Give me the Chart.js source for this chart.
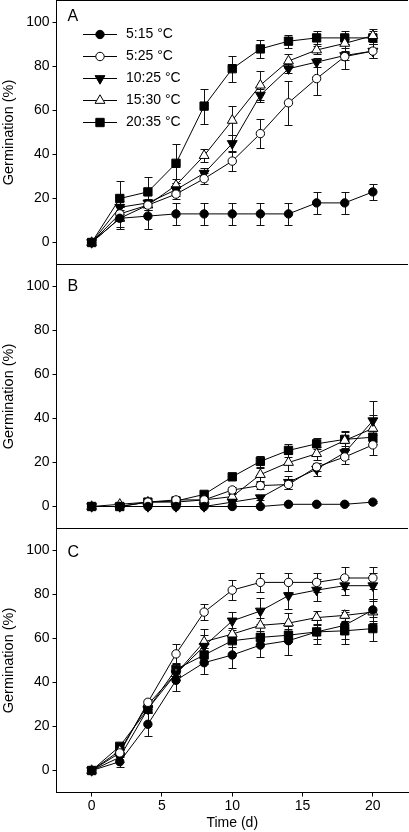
<!DOCTYPE html>
<html>
<head>
<meta charset="utf-8">
<script src="https://cdn.jsdelivr.net/npm/chart.js@4.4.1/dist/chart.umd.min.js"></script>
<style>
html,body{margin:0;padding:0;background:#fff;}
canvas{display:block;}
</style>
</head>
<body>
<canvas id="c" width="409" height="832"></canvas>
<script>
// ---------- data ----------
const days = [0, 2, 4, 6, 8, 10, 12, 14, 16, 18, 20];
const seriesNames = ['5:15 °C', '5:25 °C', '10:25 °C', '15:30 °C', '20:35 °C'];
const panelLetters = ['A', 'B', 'C'];
const yTickValues = [0, 20, 40, 60, 80, 100];
const xTickValues = [0, 5, 10, 15, 20];

// Panel A
const a515  = [0, 11, 12, 13, 13, 13, 13, 13, 18, 18, 23];
const a515e = [0, 5, 6, 5, 5, 5, 5, 5, 5, 5, 3.5];
const a525  = [0, 13, 17, 22, 29, 37, 49.5, 63.5, 74.5, 84.5, 87];
const a525e = [0, 3, 2, 2, 2.5, 4.5, 6.5, 10, 7.5, 5.5, 3];
const a1025  = [0, 16, 18, 24, 31.5, 45, 67, 79, 82, 85, 87];
const a1025e = [0, 3, 2, 3, 2.5, 4, 3, 2, 2, 2, 3];
const a1530  = [0, 11, 17, 26, 39.5, 55.5, 71.5, 82.5, 87.5, 90.5, 94];
const a1530e = [0, 4, 2, 3, 3, 6.5, 6.5, 3, 2, 2, 3];
const a2035  = [0, 20, 23, 36, 62, 79, 88, 91.5, 93, 93, 93];
const a2035e = [0, 8, 7, 9, 8, 6, 4, 3, 3, 3, 3];

// Panel B
const b515  = [0, 0, 0, 0, 0, 0, 0, 1, 1, 1, 2];
const b515e = [0, 0, 0, 0, 0, 0, 0, 0.5, 0.5, 0.5, 0.5];
const b525  = [0, 0, 2, 3, 3, 7.5, 9.5, 10, 18, 22.5, 28];
const b525e = [0, 0, 0.5, 0.5, 0.5, 1.5, 1.5, 2, 2, 3, 4.5];
const b1025  = [0, 0, 0, 0, 0, 2, 4, 11, 17, 24.5, 39];
const b1025e = [0, 0, 0, 0, 0, 0.5, 1, 3, 3, 3, 9];
const b1530  = [0, 1, 2, 2, 3, 4.5, 14.5, 20, 24, 30, 35.5];
const b1530e = [0, 0.5, 0.5, 0.5, 1, 1, 3, 4, 3, 4, 6];
const b2035  = [0, 0, 2, 2.5, 5.5, 13.5, 20.5, 25.5, 28.5, 30.5, 31.5];
const b2035e = [0, 0, 0.5, 0.5, 1, 1.5, 2.5, 3, 2.5, 4, 3];

// Panel C
const c515  = [0, 4, 21, 41, 49, 52.5, 57, 59, 63, 66, 73];
const c515e = [0, 2.5, 5.5, 5, 5, 6, 5.5, 6.5, 5.5, 6, 5];
const c525  = [0, 8, 31, 53, 72, 82, 85.5, 85.5, 85.5, 87.5, 87.5];
const c525e = [0, 2, 1.5, 4.5, 3.5, 4.5, 4.5, 4.5, 4.5, 5, 5];
const c1025  = [0, 6, 28, 44, 56.5, 68, 72.5, 79.5, 82, 84, 84];
const c1025e = [0, 2, 2, 3, 8, 4, 6, 6, 5, 4, 6];
const c1530  = [0, 9, 30, 44, 58.5, 62, 66, 67, 69.5, 70.5, 72];
const c1530e = [0, 1.5, 2, 3, 3, 3, 3.5, 4.5, 3, 2.5, 5];
const c2035  = [0, 11, 28, 46, 52.5, 59, 60.5, 61.5, 63, 63.5, 64.5];
const c2035e = [0, 1.5, 2, 3, 3, 3, 3, 3, 3, 6, 5.5];

// ---------- styles ----------
const FONT = '"Liberation Sans", Arial, Helvetica, sans-serif';
const pointStyles = ['circle', 'circle', 'triangle', 'triangle', 'rect'];
const pointRots   = [0, 0, 180, 0, 0];
const pointFills  = ['#000', '#fff', '#000', '#fff', '#000'];
const pointRadii  = [4.2, 4.2, 5.7, 5.7, 5.9];

const panels = [
  { id: 'yA', weight: 3, vals: [a515, a525, a1025, a1530, a2035], errs: [a515e, a525e, a1025e, a1530e, a2035e] },
  { id: 'yB', weight: 2, vals: [b515, b525, b1025, b1530, b2035], errs: [b515e, b525e, b1025e, b1530e, b2035e] },
  { id: 'yC', weight: 1, vals: [c515, c525, c1025, c1530, c2035], errs: [c515e, c525e, c1025e, c1530e, c2035e] }
];

const datasets = [];
panels.forEach(p => {
  p.vals.forEach((vals, si) => {
    datasets.push({
      label: seriesNames[si],
      xAxisID: 'x',
      yAxisID: p.id,
      data: days.map((d, i) => ({ x: d, y: vals[i] })),
      errors: p.errs[si],
      borderColor: '#000',
      borderWidth: 1,
      backgroundColor: pointFills[si],
      pointStyle: pointStyles[si],
      pointRotation: pointRots[si],
      pointRadius: pointRadii[si],
      pointHoverRadius: pointRadii[si],
      pointBorderWidth: 1,
      pointBorderColor: '#000',
      pointBackgroundColor: pointFills[si],
      tension: 0,
      fill: false
    });
  });
});

function zeroPad(s) {
  s.paddingTop = 0; s.paddingBottom = 0; s.paddingLeft = 0; s.paddingRight = 0;
}

function yScale(weight) {
  return {
    type: 'linear',
    position: 'left',
    stack: 'panels',
    stackWeight: 1,
    weight: weight,
    min: -10,
    max: 110,
    afterBuildTicks: s => { s.ticks = yTickValues.map(v => ({ value: v })); },
    afterFit: s => { s.width = 56.5; zeroPad(s); },
    grid: { drawOnChartArea: false, drawTicks: true, tickLength: 4, color: '#000', tickColor: '#000', lineWidth: 1 },
    border: { display: true, color: '#000', width: 1 },
    ticks: { color: '#000', font: { family: FONT, size: 14 }, padding: 3, autoSkip: false },
    title: { display: true, text: 'Germination (%)', color: '#000', font: { family: FONT, size: 14.5 }, padding: { top: 0, bottom: 0 } }
  };
}

// ---------- plugins ----------
const errorBars = {
  id: 'errorBars',
  beforeDatasetsDraw(chart) {
    const ctx = chart.ctx;
    const xs = chart.scales.x;
    ctx.save();
    ctx.strokeStyle = '#111';
    ctx.lineWidth = 1;
    chart.data.datasets.forEach(ds => {
      const ys = chart.scales[ds.yAxisID];
      ds.data.forEach((pt, i) => {
        const e = ds.errors[i];
        if (!e) return;
        const px = Math.round(xs.getPixelForValue(pt.x)) + 0.5;
        const y1 = Math.round(ys.getPixelForValue(pt.y - e)) + 0.5;
        const y2 = Math.round(ys.getPixelForValue(pt.y + e)) + 0.5;
        ctx.beginPath();
        ctx.moveTo(px, y1); ctx.lineTo(px, y2);
        ctx.moveTo(px - 4, y1); ctx.lineTo(px + 4, y1);
        ctx.moveTo(px - 4, y2); ctx.lineTo(px + 4, y2);
        ctx.stroke();
      });
    });
    ctx.restore();
  }
};

const letterOffsets = [20, 26, 28];

function drawMarker(ctx, style, rot, r, x, y, fill) {
  ctx.fillStyle = fill;
  ctx.strokeStyle = '#000';
  ctx.lineWidth = 1;
  if (Chart.helpers && Chart.helpers.drawPoint) {
    Chart.helpers.drawPoint(ctx, { pointStyle: style, rotation: rot, radius: r, borderWidth: 1 }, x, y);
    return;
  }
  ctx.beginPath();
  if (style === 'circle') {
    ctx.arc(x, y, r, 0, Math.PI * 2);
  } else if (style === 'rect') {
    const s = r * Math.SQRT1_2;
    ctx.rect(x - s, y - s, 2 * s, 2 * s);
  } else {
    let a = rot * Math.PI / 180;
    for (let k = 0; k < 3; k++) {
      const px = x + Math.sin(a) * r, py = y - Math.cos(a) * r;
      if (k === 0) ctx.moveTo(px, py); else ctx.lineTo(px, py);
      a += 2 * Math.PI / 3;
    }
    ctx.closePath();
  }
  ctx.fill();
  ctx.stroke();
}

const decor = {
  id: 'decor',
  afterDraw(chart) {
    const ctx = chart.ctx;
    const ca = chart.chartArea;
    ctx.save();
    ctx.strokeStyle = '#000';
    ctx.lineWidth = 1;
    panels.forEach((p, k) => {
      const s = chart.scales[p.id];
      ctx.beginPath();
      ctx.moveTo(ca.left, s.top);
      ctx.lineTo(ca.right, s.top);
      ctx.stroke();
      ctx.fillStyle = '#000';
      ctx.font = '16px ' + FONT;
      ctx.textAlign = 'left';
      ctx.textBaseline = 'alphabetic';
      ctx.fillText(panelLetters[k], ca.left + 11, s.top + letterOffsets[k]);
    });
    // legend in panel A
    const sA = chart.scales.yA;
    const x0 = ca.left + 26.5, x1 = ca.left + 60.5, xm = ca.left + 43.5, xt = ca.left + 69.5;
    seriesNames.forEach((name, i) => {
      const y = Math.round(sA.top + 33) + 0.5;
      const yy = y + i * 22;
      ctx.beginPath();
      ctx.strokeStyle = '#000';
      ctx.moveTo(x0, yy); ctx.lineTo(x1, yy);
      ctx.stroke();
      drawMarker(ctx, pointStyles[i], pointRots[i], pointRadii[i], xm, yy, pointFills[i]);
      ctx.fillStyle = '#000';
      ctx.font = '14px ' + FONT;
      ctx.textAlign = 'left';
      ctx.textBaseline = 'middle';
      ctx.fillText(name, xt, yy);
    });
    ctx.restore();
  }
};

new Chart(document.getElementById('c'), {
  type: 'line',
  data: { datasets: datasets },
  options: {
    responsive: false,
    devicePixelRatio: 1,
    animation: false,
    layout: { autoPadding: false, padding: { top: 0.5, left: 0, right: 1, bottom: 0 } },
    plugins: { legend: { display: false }, tooltip: { enabled: false } },
    scales: {
      x: {
        type: 'linear',
        position: 'bottom',
        min: -2.5,
        max: 22.5,
        afterBuildTicks: s => { s.ticks = xTickValues.map(v => ({ value: v })); },
        afterFit: s => { s.height = 39.5; zeroPad(s); },
        grid: { drawOnChartArea: false, drawTicks: true, tickLength: 4, color: '#000', tickColor: '#000' },
        border: { display: true, color: '#000', width: 1 },
        ticks: { color: '#000', font: { family: FONT, size: 14 }, padding: 1, maxRotation: 0, autoSkip: false },
        title: { display: true, text: 'Time (d)', color: '#000', font: { family: FONT, size: 14 }, padding: { top: 0, bottom: 0 } }
      },
      yA: yScale(3),
      yB: yScale(2),
      yC: yScale(1)
    }
  },
  plugins: [errorBars, decor]
});
</script>
</body>
</html>
